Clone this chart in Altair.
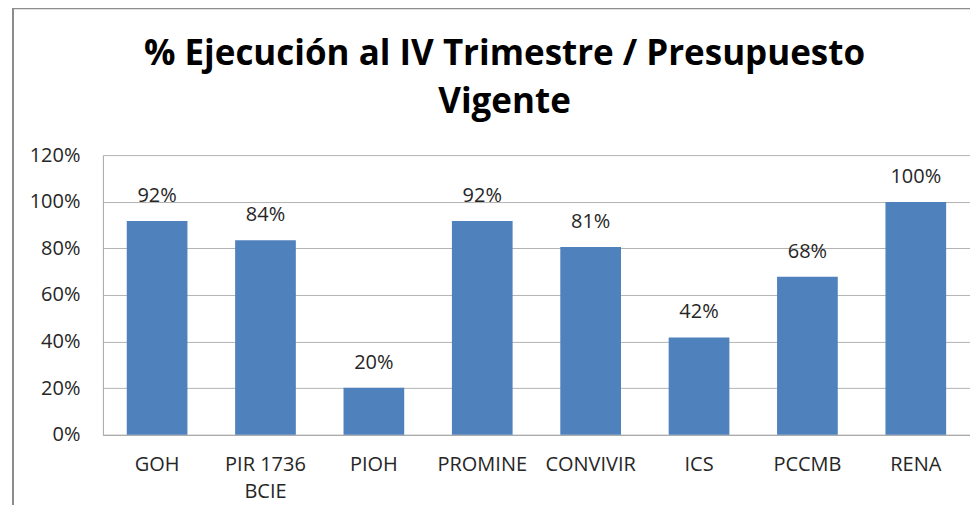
import altair as alt
import pandas as pd

categories = ["GOH", "PIR 1736 BCIE", "PIOH", "PROMINE", "CONVIVIR", "ICS", "PCCMB", "RENA"]
values = [0.917, 0.835, 0.202, 0.917, 0.806, 0.418, 0.678, 0.999]
y_ticks = [0, 0.2, 0.4, 0.6, 0.8, 1.0, 1.2]
title_lines = ["% Ejecución al IV Trimestre / Presupuesto", "Vigente"]

df = pd.DataFrame({"cat": categories, "val": values})
one = pd.DataFrame({"k": [0]})

FONT = "Open Sans, Lato, sans-serif"
TXT = "#262626"
FS = 20

x = alt.X("cat:N", sort=categories, title=None,
          scale=alt.Scale(paddingInner=0.44, paddingOuter=0.22),
          axis=alt.Axis(labelAngle=0, ticks=False, domain=True, domainColor="#A6A6A6",
                        labelPadding=30, labelFontSize=FS, labelFont=FONT, labelColor=TXT,
                        labelLineHeight=27, labelBaseline="middle",
                        labelExpr="datum.value == 'PIR 1736 BCIE' ? ['PIR 1736', 'BCIE'] : datum.label"))
y = alt.Y("val:Q", title=None,
          scale=alt.Scale(domain=[0, 1.2], nice=False),
          axis=alt.Axis(values=y_ticks, format=".0%", ticks=False, domain=True, domainColor="#A6A6A6",
                        grid=True, gridColor="#B3B3B3", labelPadding=23, labelFontSize=FS,
                        labelFont=FONT, labelColor=TXT))

bars = alt.Chart(df).mark_bar(color="#4F81BD").encode(x=x, y=y)
labels = alt.Chart(df).mark_text(baseline="alphabetic", dy=-19, fontSize=FS, font=FONT, color=TXT).encode(
    x=x, y=y, text=alt.Text("val:Q", format=".0%"))

border = alt.Chart(one).mark_rect(fill=None, stroke="#8C8C8C", strokeWidth=2).encode(
    x=alt.value(-90), y=alt.value(-147), x2=alt.value(1200), y2=alt.value(800))

title = alt.Chart(one).mark_text(fontSize=35, font=FONT, fontWeight="bold", color="black",
                                 align="center", baseline="alphabetic", lineHeight=48).encode(
    x=alt.value(402), y=alt.value(-90), text=alt.value(title_lines))

chart = alt.layer(border, bars, labels, title).properties(
    width=868, height=280,
    autosize=alt.AutoSizeParams(type="none"),
    padding={"left": 95, "top": 147, "right": 0, "bottom": 70},
).configure_view(stroke=None)

chart.save("out.html", embed_options={"renderer": "svg", "actions": False})
